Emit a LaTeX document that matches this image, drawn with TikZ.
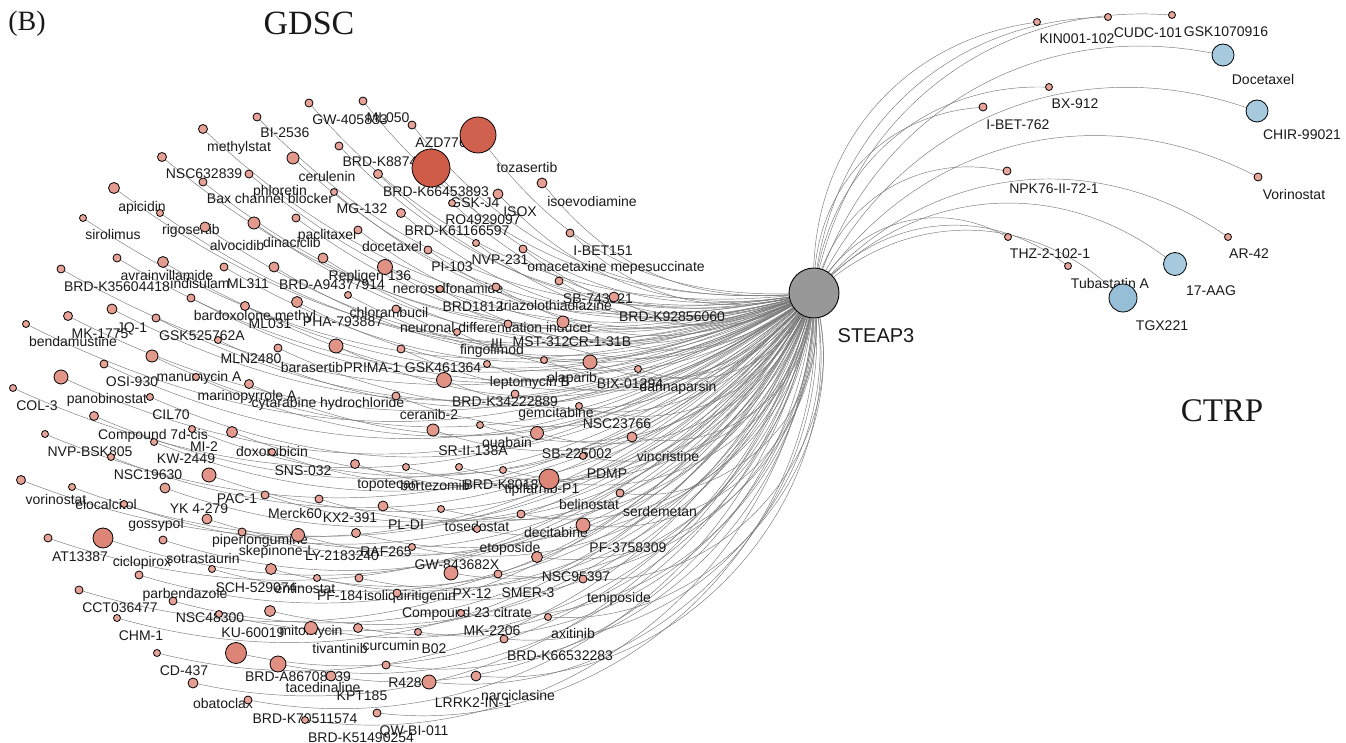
\documentclass[tikz,border=0pt]{standalone}
\usepackage{fontspec}
\setmainfont{Liberation Sans}
\newfontfamily\ttlfont{Liberation Serif}
\pgfdeclarelayer{bg}\pgfdeclarelayer{lab}
\pgfsetlayers{bg,lab,main}
\definecolor{ltred}{RGB}{231,164,153}
\definecolor{drkred}{RGB}{206,92,72}
\definecolor{ltblue}{RGB}{166,201,221}
\definecolor{dkblue}{RGB}{150,190,214}
\definecolor{hubgray}{RGB}{152,152,152}
\definecolor{edgegray}{RGB}{120,120,120}
\definecolor{txtc}{RGB}{25,25,25}
\newcounter{dcnt}\newcounter{lcnt}
\tikzset{
 drug/.style={circle, draw=black, line width=0.8pt, inner sep=0pt, outer sep=0pt},
 lbl/.style={inner sep=0pt, text height=10pt, text depth=0pt, font=\fontsize{14}{16}\selectfont, text=txtc},
 edge/.style={draw=edgegray, line width=0.45pt},
 ttl/.style={inner sep=0pt, text depth=0pt, text=txtc},
}
\newcommand\drgL[3]{%
 \stepcounter{dcnt}%
 \pgfmathtruncatemacro\pct{min(100,max(0,(#3-3.5)/15.5*100))}%
 \node[drug, minimum size=2*#3pt, fill=drkred!\pct!ltred] (D\arabic{dcnt}) at (#1,-#2) {};%
 \pgfmathsetmacro\bnd{27+0.5*max(0,atan2(#2-293,814-#1))}%
 \begin{pgfonlayer}{bg}\draw[edge] (D\arabic{dcnt}) to[bend right=\bnd] (hub);\end{pgfonlayer}%
}
\newcommand\drgR[4]{%
 \stepcounter{dcnt}%
 \node[drug, minimum size=2*#3pt, fill=#4] (D\arabic{dcnt}) at (#1,-#2) {};%
 \begin{pgfonlayer}{bg}\draw[edge] (D\arabic{dcnt}) to[bend right=40] (hub);\end{pgfonlayer}%
}
\newcommand\mylab[3]{\stepcounter{lcnt}\begin{pgfonlayer}{lab}\node[lbl] (L\arabic{lcnt}) at (#1,-#2) {#3};\end{pgfonlayer}}
\begin{document}
\begin{tikzpicture}[x=1pt,y=1pt]
\useasboundingbox (0,-743) rectangle (1346,0);
\node[circle, draw=black, line width=0.9pt, fill=hubgray, minimum size=50pt, inner sep=0pt] (hub) at (814,-293) {};
\node[ttl, text height=14.3pt, font=\fontsize{20}{24}\selectfont] (hublab) at (876,-335) {STEAP3};
\node[ttl, text height=18.5pt, font=\ttlfont\fontsize{28}{32}\selectfont] (tB) at (27,-21) {(B)};
\node[ttl, text height=22.5pt, font=\ttlfont\fontsize{34}{40}\selectfont] (tG) at (309,-23) {GDSC};
\node[ttl, text height=22pt, font=\ttlfont\fontsize{33}{40}\selectfont] (tC) at (1222,-410) {CTRP};
% ---------- left (GDSC) nodes
\drgL{257}{117}{4}\drgL{203}{129}{4.5}\drgL{162}{157}{4.5}\drgL{249}{174}{4}
\drgL{203}{182}{4}\drgL{114}{188}{5.5}\drgL{160}{213}{3.5}\drgL{83}{218}{3.5}
\drgL{205}{227}{5}\drgL{254}{223}{6}\drgL{117}{258}{4}\drgL{163}{262}{5.5}
\drgL{224}{267}{4}\drgL{274}{267}{5}\drgL{61}{269}{4}\drgL{309}{103}{4}
\drgL{363}{101}{4}\drgL{412}{125}{4}\drgL{478}{135}{18}\drgL{339}{146}{4}
\drgL{293}{158}{6}\drgL{431}{168}{19}\drgL{378}{174}{4.5}\drgL{334}{192}{3.5}
\drgL{498}{194}{5}\drgL{452}{203}{3.5}\drgL{296}{218}{4}\drgL{401}{213}{4.5}
\drgL{476}{243}{3.5}\drgL{358}{230}{4}\drgL{323}{258}{5}\drgL{428}{250}{4}
\drgL{523}{249}{4}\drgL{385}{267}{7.5}\drgL{542}{183}{5}\drgL{570}{233}{4}
\drgL{559}{281}{4}
\drgL{191}{298}{4}\drgL{245}{306}{4.5}\drgL{112}{309}{5}\drgL{68}{316}{4.5}
\drgL{156}{318}{4}\drgL{26}{324}{3.5}\drgL{218}{340}{3.5}\drgL{278}{348}{4}
\drgL{152}{356}{6}\drgL{104}{364}{4}\drgL{61}{377}{7}\drgL{196}{377}{3.5}
\drgL{13}{388}{3.5}\drgL{249}{384}{4.5}\drgL{150}{397}{3.5}\drgL{94}{416}{4.5}
\drgL{192}{429}{3.5}\drgL{232}{432}{5.5}\drgL{45}{434}{3.5}\drgL{154}{442}{3.5}
\drgL{272}{452}{3.5}\drgL{111}{457}{3.5}\drgL{209}{475}{7}
\drgL{348}{295}{3.5}\drgL{297}{302}{5.5}\drgL{440}{289}{3.5}\drgL{496}{287}{4}
\drgL{396}{309}{4}\drgL{508}{324}{4}\drgL{457}{332}{3.5}\drgL{336}{346}{7}
\drgL{401}{349}{4}\drgL{487}{364}{3.5}\drgL{444}{380}{7.5}\drgL{396}{396}{4}
\drgL{515}{394}{4}\drgL{433}{430}{6}\drgL{480}{425}{3.5}\drgL{537}{433}{6.5}
\drgL{355}{464}{4.5}\drgL{406}{467}{3.5}\drgL{459}{467}{3.5}\drgL{503}{470}{3.5}
\drgL{614}{297}{5}\drgL{563}{322}{6}\drgL{544}{360}{3.5}\drgL{590}{362}{7}
\drgL{638}{369}{3.5}\drgL{579}{406}{3.5}\drgL{632}{437}{5}\drgL{583}{456}{3.5}
\drgL{21}{480}{4.5}\drgL{72}{487}{3.5}\drgL{165}{488}{5}\drgL{124}{504}{3.5}
\drgL{265}{495}{4}\drgL{207}{519}{5}\drgL{48}{538}{4}\drgL{103}{538}{10}
\drgL{163}{540}{4}\drgL{242}{532}{4}\drgL{212}{569}{3.5}\drgL{271}{569}{5.5}
\drgL{139}{575}{4}\drgL{79}{590}{4}\drgL{173}{601}{4}\drgL{270}{611}{5.5}
\drgL{117}{618}{3.5}\drgL{219}{614}{3.5}\drgL{157}{653}{3.5}\drgL{236}{653}{10.5}
\drgL{319}{499}{4}\drgL{383}{506}{5}\drgL{441}{509}{3.5}\drgL{521}{514}{4}
\drgL{298}{535}{6.5}\drgL{356}{533}{4.5}\drgL{477}{529}{3.5}\drgL{412}{547}{3.5}
\drgL{537}{557}{5.5}\drgL{451}{573}{7}\drgL{498}{574}{4}\drgL{317}{578}{3.5}
\drgL{359}{578}{4}\drgL{397}{593}{4}\drgL{461}{613}{3.5}\drgL{311}{628}{6.5}
\drgL{358}{628}{4.5}\drgL{418}{632}{3.5}\drgL{504}{639}{4}
\drgL{549}{479}{10}\drgL{620}{493}{4}\drgL{583}{525}{7}\drgL{583}{579}{4}
\drgL{548}{617}{3.5}
\drgL{278}{664}{8}\drgL{331}{676}{5}\drgL{386}{665}{4}\drgL{429}{682}{7}
\drgL{476}{676}{5}\drgL{193}{683}{5}\drgL{248}{700}{4}\drgL{305}{720}{3.5}
\drgL{377}{713}{4}
% ---------- right (CTRP) nodes
\drgR{1037}{22}{3.5}{ltred}\drgR{1108}{17}{3.5}{ltred}\drgR{1172}{15}{3.5}{ltred}
\drgR{1223}{55}{11}{ltblue}\drgR{1049}{87}{3.5}{ltred}\drgR{983}{107}{4}{ltred}
\drgR{1257}{111}{11}{ltblue}\drgR{1007}{171}{4}{ltred}\drgR{1258}{177}{4}{ltred}
\drgR{1008}{237}{3.5}{ltred}\drgR{1228}{237}{3.5}{ltred}\drgR{1175}{264}{11.5}{ltblue}
\drgR{1068}{266}{3.5}{ltred}\drgR{1123}{298}{14}{dkblue}
% ---------- labels
\mylab{239}{147}{methylstat}\mylab{285}{133}{BI-2536}\mylab{350}{120}{GW-405833}
\mylab{388}{118}{ML050}\mylab{445}{143}{AZD7762}\mylab{380}{162}{BRD-K8874}
\mylab{204}{174}{NSC632839}\mylab{327}{177}{cerulenin}\mylab{527}{168}{tozasertib}
\mylab{280}{191}{phloretin}\mylab{270}{199}{Bax channel blocker}\mylab{436}{192}{BRD-K66453893}
\mylab{475}{203}{GSK-J4}\mylab{592}{202}{isoevodiamine}\mylab{362}{209}{MG-132}
\mylab{520}{212}{ISOX}\mylab{483}{220}{RO4929097}\mylab{142}{207}{apicidin}
\mylab{191}{230}{rigosertib}\mylab{113}{235}{sirolimus}\mylab{327}{235}{paclitaxel}
\mylab{457}{231}{BRD-K61166597}\mylab{237}{246}{alvocidib}\mylab{292}{243}{dinaciclib}
\mylab{392}{247}{docetaxel}\mylab{603}{251}{I-BET151}\mylab{500}{260}{NVP-231}
\mylab{452}{267}{PI-103}\mylab{616}{267}{omacetaxine mepesuccinate}\mylab{370}{275}{Repligen 136}
\mylab{167}{275}{avrainvillamide}\mylab{200}{283}{indisulam}\mylab{248}{283}{ML311}
\mylab{117}{286}{BRD-K35604418}\mylab{332}{285}{BRD-A94377914}\mylab{448}{289}{necrosulfonamide}
\mylab{598}{298}{SB-743921}\mylab{556}{305}{triazolothiadiazine}\mylab{473}{306}{BRD1812}
\mylab{389}{312}{chlorambucil}\mylab{255}{315}{bardoxolone methyl}\mylab{672}{316}{BRD-K92856060}
\mylab{343}{321}{PHA-793887}\mylab{270}{323}{ML031}\mylab{496}{327}{neuronal differentiation inducer}
\mylab{132}{327}{JQ-1}\mylab{100}{333}{MK-1775}\mylab{202}{335}{GSK525762A}
\mylab{73}{341}{bendamustine}\mylab{541}{341}{MST-312}\mylab{600}{341}{CR-1-31B}
\mylab{497}{343}{III}\mylab{492}{349}{fingolimod}\mylab{251}{358}{MLN2480}
\mylab{312}{367}{barasertib}\mylab{372}{367}{PRIMA-1}\mylab{443}{367}{GSK461364}
\mylab{199}{376}{manumycin A}\mylab{572}{377}{olaparib}\mylab{530}{381}{leptomycin B}
\mylab{132}{381}{OSI-930}\mylab{630}{383}{BIX-01294}\mylab{678}{386}{darinaparsin}
\mylab{247}{395}{marinopyrrole A}\mylab{107}{398}{panobinostat}\mylab{328}{402}{cytarabine hydrochloride}
\mylab{505}{401}{BRD-K34222889}\mylab{37}{405}{COL-3}\mylab{556}{412}{gemcitabine}
\mylab{429}{414}{ceranib-2}\mylab{171}{414}{CIL70}\mylab{617}{423}{NSC23766}
\mylab{153}{434}{Compound 7d-cis}\mylab{507}{442}{ouabain}\mylab{204}{446}{MI-2}
\mylab{473}{450}{SR-II-138A}\mylab{90}{451}{NVP-BSK805}\mylab{272}{451}{doxorubicin}
\mylab{577}{453}{SB-225002}\mylab{668}{456}{vincristine}\mylab{186}{458}{KW-2449}
\mylab{303}{470}{SNS-032}\mylab{148}{474}{NSC19630}\mylab{607}{473}{PDMP}
\mylab{388}{483}{topotecan}\mylab{435}{485}{bortezomib}\mylab{501}{484}{BRD-K8018}
\mylab{542}{488}{tipifarnib-P1}\mylab{237}{498}{PAC-1}\mylab{56}{499}{vorinostat}
\mylab{589}{504}{belinostat}\mylab{106}{504}{elocalcitol}\mylab{199}{508}{YK 4-279}
\mylab{660}{511}{serdemetan}\mylab{295}{513}{Merck60}\mylab{350}{517}{KX2-391}
\mylab{156}{523}{gossypol}\mylab{406}{524}{PL-DI}\mylab{477}{526}{tosedostat}
\mylab{556}{532}{decitabine}\mylab{260}{539}{piperlongumine}\mylab{510}{547}{etoposide}
\mylab{628}{547}{PF-3758309}\mylab{277}{550}{skepinone-L}\mylab{386}{551}{RAF265}
\mylab{342}{555}{LY-2183240}\mylab{80}{556}{AT13387}\mylab{203}{558}{sotrastaurin}
\mylab{142}{561}{ciclopirox}\mylab{457}{564}{GW-843682X}\mylab{576}{576}{NSC95397}
\mylab{256}{587}{SCH-529074}\mylab{305}{588}{entinostat}\mylab{528}{592}{SMER-3}
\mylab{472}{593}{PX-12}\mylab{185}{593}{parbendazole}\mylab{340}{595}{PF-184}
\mylab{410}{595}{isoliquiritigenin}\mylab{619}{597}{teniposide}\mylab{120}{607}{CCT036477}
\mylab{467}{612}{Compound 23 citrate}\mylab{210}{617}{NSC48300}\mylab{492}{630}{MK-2206}
\mylab{311}{630}{mitomycin}\mylab{253}{632}{KU-60019}\mylab{573}{633}{axitinib}
\mylab{141}{635}{CHM-1}\mylab{340}{648}{tivantinib}\mylab{391}{645}{curcumin}
\mylab{434}{648}{B02}\mylab{560}{655}{BRD-K66532283}\mylab{184}{670}{CD-437}
\mylab{298}{676}{BRD-A86708339}\mylab{405}{682}{R428}\mylab{323}{687}{tacedinaline}
\mylab{362}{695}{KPT185}\mylab{518}{695}{narciclasine}\mylab{473}{702}{LRRK2-IN-1}
\mylab{223}{703}{obatoclax}\mylab{305}{718}{BRD-K70511574}\mylab{414}{730}{QW-BI-011}
\mylab{361}{737}{BRD-K51490254}
% right labels
\mylab{1077}{39}{KIN001-102}\mylab{1148}{33}{CUDC-101}\mylab{1226}{32}{GSK1070916}
\mylab{1263}{80}{Docetaxel}\mylab{1075}{104}{BX-912}\mylab{1018}{125}{I-BET-762}
\mylab{1302}{135}{CHIR-99021}\mylab{1054}{189}{NPK76-II-72-1}\mylab{1294}{195}{Vorinostat}
\mylab{1050}{254}{THZ-2-102-1}\mylab{1249}{254}{AR-42}\mylab{1110}{284}{Tubastatin A}
\mylab{1211}{290}{17-AAG}\mylab{1162}{325}{TGX221}
\end{tikzpicture}
\end{document}
